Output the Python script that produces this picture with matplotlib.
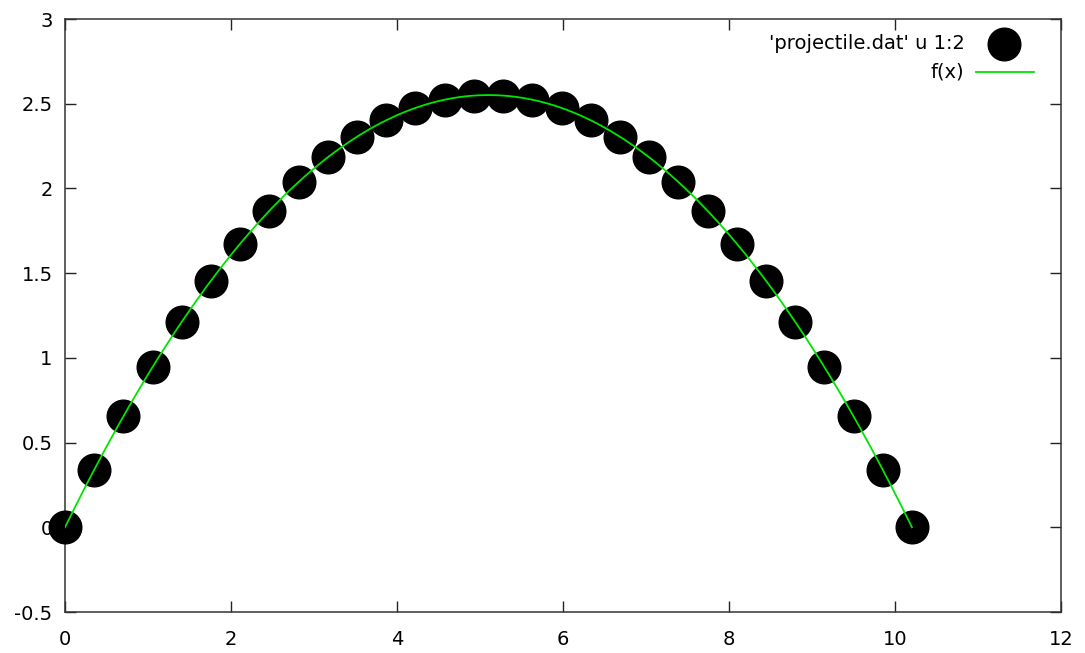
import numpy as np
import matplotlib
matplotlib.use("Agg")
import matplotlib.pyplot as plt

# Data
x_data = [0.0, 0.352, 0.704, 1.056, 1.407, 1.759, 2.111, 2.463, 2.815, 3.167,
          3.519, 3.870, 4.222, 4.574, 4.926, 5.278, 5.630, 5.982, 6.333, 6.685,
          7.037, 7.389, 7.741, 8.093, 8.445, 8.796, 9.148, 9.500, 9.852, 10.204]
y_data = [0.0, 0.340, 0.655, 0.947, 1.213, 1.456, 1.674, 1.869, 2.038, 2.184,
          2.305, 2.402, 2.475, 2.524, 2.548, 2.548, 2.524, 2.475, 2.402, 2.305,
          2.184, 2.038, 1.869, 1.674, 1.456, 1.213, 0.947, 0.655, 0.340, 0.0]

# fitted function f(x) = a*x^2 + b*x + c
fit_a = -0.098
fit_b = 1.0
fit_c = 0.0
fit_xmin, fit_xmax = 0.0, 10.204

x_ticks = [0, 2, 4, 6, 8, 10, 12]
y_ticks = [-0.5, 0, 0.5, 1, 1.5, 2, 2.5, 3]
y_tick_labels = ["-0.5", "0", "0.5", "1", "1.5", "2", "2.5", "3"]
label_points = "'projectile.dat' u 1:2"
label_fit = "f(x)"

plt.rcParams['font.family'] = ['DejaVu Sans']

fig = plt.figure(figsize=(10.85, 6.53), dpi=100)
ax = fig.add_axes([65/1085, 1-612/653, (1061-65)/1085, (612-19)/653])

ax.plot(x_data, y_data, 'o', color='black', markersize=23.5, clip_on=False, zorder=3)
xf = np.linspace(fit_xmin, fit_xmax, 400)
ax.plot(xf, fit_a*xf**2 + fit_b*xf + fit_c, color='#00e600', linewidth=1.3, zorder=4)

ax.set_xlim(0, 12)
ax.set_ylim(-0.5, 3)
ax.set_xticks(x_ticks)
ax.set_yticks(y_ticks)
ax.set_yticklabels(y_tick_labels)
ax.tick_params(direction='in', length=8, width=1, top=True, right=True,
               labelsize=14, color='#222222')
ax.tick_params(axis='x', pad=13)
ax.tick_params(axis='y', pad=9)
for s in ax.spines.values():
    s.set_linewidth(1.1)
    s.set_color('#333333')

# legend (gnuplot style, top right)
ax.text(0.903, 0.958, label_points, transform=ax.transAxes, ha='right', va='center', fontsize=14)
ax.plot([0.9427], [0.958], 'o', color='black', markersize=23.5, transform=ax.transAxes, clip_on=False)
ax.text(0.903, 0.911, label_fit, transform=ax.transAxes, ha='right', va='center', fontsize=14)
ax.plot([0.915, 0.9727], [0.911, 0.911], color='#00e600', linewidth=1.3, transform=ax.transAxes)

fig.savefig("out.png", dpi=100)
